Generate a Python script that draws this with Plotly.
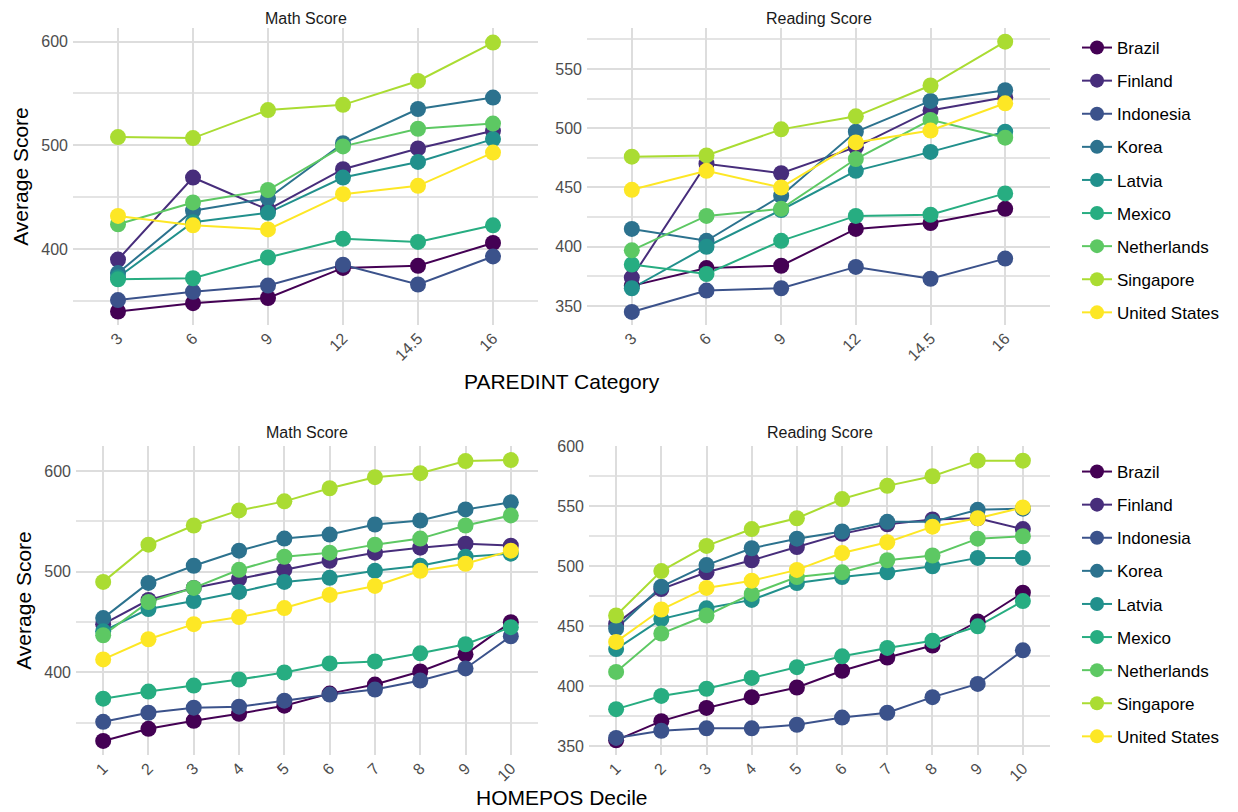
import plotly.graph_objects as go

countries = ["Brazil", "Finland", "Indonesia", "Korea", "Latvia", "Mexico",
             "Netherlands", "Singapore", "United States"]
colors = ["#440154", "#472D7B", "#3B528B", "#2C728E", "#21908C", "#27AD81",
          "#5DC863", "#AADC32", "#FDE725"]

paredint_cats = ["3", "6", "9", "12", "14.5", "16"]
homepos_cats = ["1", "2", "3", "4", "5", "6", "7", "8", "9", "10"]

par_math = {
    "Brazil":        [340, 348, 353, 382, 384, 406],
    "Finland":       [390, 469, 438, 477, 497, 514],
    "Indonesia":     [351, 359, 365, 385, 366, 393],
    "Korea":         [377, 437, 449, 502, 535, 546],
    "Latvia":        [373, 426, 435, 469, 484, 506],
    "Mexico":        [371, 372, 392, 410, 407, 423],
    "Netherlands":   [424, 445, 457, 499, 516, 521],
    "Singapore":     [508, 507, 534, 539, 562, 599],
    "United States": [432, 423, 419, 453, 461, 493],
}
par_read = {
    "Brazil":        [367, 382, 384, 415, 420, 432],
    "Finland":       [374, 470, 462, 484, 515, 526],
    "Indonesia":     [345, 363, 365, 383, 373, 390],
    "Korea":         [415, 405, 443, 497, 523, 532],
    "Latvia":        [365, 400, 431, 464, 480, 497],
    "Mexico":        [385, 377, 405, 426, 427, 445],
    "Netherlands":   [397, 426, 432, 474, 507, 492],
    "Singapore":     [476, 477, 499, 510, 536, 573],
    "United States": [448, 464, 450, 488, 498, 521],
}
hom_math = {
    "Brazil":        [332, 344, 352, 359, 367, 379, 388, 401, 418, 450],
    "Finland":       [448, 472, 484, 493, 502, 511, 519, 524, 528, 526],
    "Indonesia":     [351, 360, 365, 366, 372, 378, 383, 392, 404, 436],
    "Korea":         [454, 489, 506, 521, 533, 537, 547, 551, 562, 569],
    "Latvia":        [441, 463, 471, 480, 490, 494, 501, 506, 515, 518],
    "Mexico":        [374, 381, 387, 393, 400, 409, 411, 419, 428, 445],
    "Netherlands":   [437, 470, 484, 502, 515, 519, 527, 533, 546, 556],
    "Singapore":     [490, 527, 546, 561, 570, 583, 594, 598, 610, 611],
    "United States": [413, 433, 448, 455, 464, 477, 486, 501, 508, 521],
}
hom_read = {
    "Brazil":        [355, 371, 382, 391, 399, 413, 424, 434, 454, 478],
    "Finland":       [452, 481, 495, 505, 516, 527, 535, 539, 540, 531],
    "Indonesia":     [357, 363, 365, 365, 368, 374, 378, 391, 402, 430],
    "Korea":         [448, 483, 501, 515, 523, 529, 537, 537, 547, 548],
    "Latvia":        [431, 456, 465, 472, 486, 491, 495, 500, 507, 507],
    "Mexico":        [381, 392, 398, 407, 416, 425, 432, 438, 450, 471],
    "Netherlands":   [412, 444, 459, 477, 491, 495, 505, 509, 523, 525],
    "Singapore":     [459, 496, 517, 531, 540, 556, 567, 575, 588, 588],
    "United States": [437, 464, 482, 488, 497, 511, 520, 533, 540, 549],
}

# page body has an 8px margin; figure sized to fill the rest of the window
OFF = 8
W, H = 1238 - OFF, 812 - OFF
FONT = "Liberation Sans, Arial, sans-serif"

fig = go.Figure()

panels = [
    ("x", "y", paredint_cats, par_math),
    ("x2", "y2", paredint_cats, par_read),
    ("x3", "y3", homepos_cats, hom_math),
    ("x4", "y4", homepos_cats, hom_read),
]

# lines under all points (ggplot layer order)
for xa, ya, cats, data in panels:
    for c, col in zip(countries, colors):
        fig.add_trace(go.Scatter(x=cats, y=data[c], mode="lines", xaxis=xa, yaxis=ya,
                                 line=dict(color=col, width=2), showlegend=False,
                                 hoverinfo="skip"))
    for c, col in zip(countries, colors):
        fig.add_trace(go.Scatter(x=cats, y=data[c], mode="markers", xaxis=xa, yaxis=ya,
                                 marker=dict(color=col, size=16), showlegend=False,
                                 name=c))

# legend entries
for lg in ["legend", "legend2"]:
    for c, col in zip(countries, colors):
        fig.add_trace(go.Scatter(x=[None], y=[None], mode="lines+markers", name=c,
                                 line=dict(color=col, width=2),
                                 marker=dict(color=col, size=14),
                                 legend=lg, legendgroup=lg + c, showlegend=True,
                                 xaxis="x", yaxis="y"))

def fx(px):
    return (px - OFF) / W

def fy(py):
    return 1 - (py - OFF) / H

def px_x(a, b):
    return [fx(a), fx(b)]

def px_y(top, bottom):
    return [fy(bottom), fy(top)]

grid_major = "#DDDDDD"
grid_minor = "#E4E4E4"
tickfont = dict(family=FONT, size=16, color="#4D4D4D")

def xax(dom, n, anchor):
    return dict(domain=dom, type="category", range=[-0.6, n - 0.4], anchor=anchor,
                showgrid=True, gridcolor=grid_major, gridwidth=2, zeroline=False,
                showline=False, ticks="", tickangle=-45, tickfont=tickfont,
                automargin=False, fixedrange=True)

def yax(dom, rng, dt, anchor, title=None):
    d = dict(domain=dom, range=rng, dtick=dt, tick0=0, anchor=anchor,
             showgrid=True, gridcolor=grid_major, gridwidth=2, zeroline=False,
             showline=False, ticks="", tickfont=tickfont, automargin=False,
             ticklabelstandoff=4,
             minor=dict(dtick=dt / 2, tick0=0, showgrid=True, gridcolor=grid_minor,
                        gridwidth=1.6, ticks=""))
    if title:
        d["title"] = dict(text=title, font=dict(family=FONT, size=21, color="black"),
                          standoff=6)
    return d

top_y = px_y(28, 325)
bot_y = px_y(446, 755)

fig.update_layout(
    width=W, height=H,
    margin=dict(l=0, r=0, t=0, b=0, autoexpand=False),
    paper_bgcolor="white", plot_bgcolor="white",
    font=dict(family=FONT),
    xaxis=xax(px_x(73, 538), 6, "y"),
    xaxis2=xax(px_x(587, 1050), 6, "y2"),
    xaxis3=xax(px_x(76, 538), 10, "y3"),
    xaxis4=xax(px_x(589, 1050), 10, "y4"),
    yaxis=yax(top_y, [327, 613], 100, "x", "Average Score"),
    yaxis2=yax(top_y, [334, 584.5], 50, "x2"),
    yaxis3=yax(bot_y, [318, 625], 100, "x3", "Average Score"),
    yaxis4=yax(bot_y, [342.8, 600.2], 50, "x4"),
    legend=dict(x=fx(1077), y=fy(30), xanchor="left", yanchor="top",
                font=dict(family=FONT, size=17, color="black"),
                tracegroupgap=8, bgcolor="rgba(0,0,0,0)"),
    legend2=dict(x=fx(1077), y=fy(454), xanchor="left", yanchor="top",
                 font=dict(family=FONT, size=17, color="black"),
                 tracegroupgap=8, bgcolor="rgba(0,0,0,0)"),
    showlegend=True,
)

ann_font = dict(family=FONT, size=16, color="#1A1A1A")
annotations = [
    dict(text="Math Score", x=fx((73 + 538) / 2), y=fy(8), yanchor="top"),
    dict(text="Reading Score", x=fx((587 + 1050) / 2), y=fy(8), yanchor="top"),
    dict(text="Math Score", x=fx((76 + 538) / 2), y=fy(432), yanchor="middle"),
    dict(text="Reading Score", x=fx((589 + 1050) / 2), y=fy(432), yanchor="middle"),
]
for a in annotations:
    fig.add_annotation(xref="paper", yref="paper", showarrow=False,
                       xanchor="center", font=ann_font, **a)

for txt, yy in [("PAREDINT Category", 381), ("HOMEPOS Decile", 797)]:
    fig.add_annotation(text=txt, xref="paper", yref="paper", x=fx(562), y=fy(yy),
                       showarrow=False, xanchor="center", yanchor="middle",
                       font=dict(family=FONT, size=21, color="black"))

fig.write_html("out.html")
